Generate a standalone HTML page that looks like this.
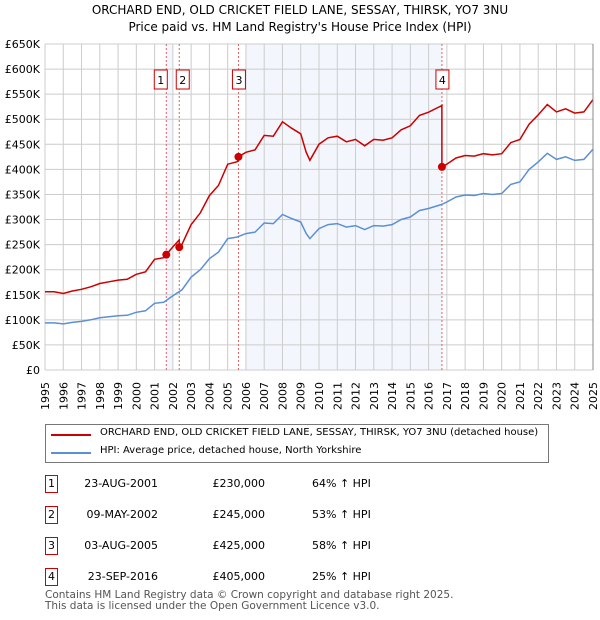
<!DOCTYPE html>
<html><head><meta charset="utf-8"><style>
body{margin:0;background:#fff;font-family:"DejaVu Sans","Liberation Sans",sans-serif;}
#wrap{position:relative;width:600px;height:620px;overflow:hidden}
.t{position:absolute;font-size:11px;color:#000;white-space:nowrap}
.box{position:absolute;border:1px solid #c00;width:11px;height:16px;text-align:center;font-size:11px;line-height:16px}
</style></head><body><div id="wrap">
<div class="t" style="left:0;width:600px;text-align:center;top:3px;font-size:12px">ORCHARD END, OLD CRICKET FIELD LANE, SESSAY, THIRSK, YO7 3NU</div>
<div class="t" style="left:0;width:600px;text-align:center;top:20px;font-size:12px">Price paid vs. HM Land Registry's House Price Index (HPI)</div>
<svg id="svg" width="600" height="420" style="position:absolute;left:0;top:0"></svg>
<div style="position:absolute;left:45px;top:424px;width:502px;height:37px;border:1px solid #777"></div>
<div style="position:absolute;left:51px;top:434px;width:40px;height:2px;background:#c00"></div>
<div class="t" style="left:100px;top:427px;font-size:10px">ORCHARD END, OLD CRICKET FIELD LANE, SESSAY, THIRSK, YO7 3NU (detached house)</div>
<div style="position:absolute;left:51px;top:452px;width:40px;height:2px;background:#5b8fd6"></div>
<div class="t" style="left:100px;top:445px;font-size:10px">HPI: Average price, detached house, North Yorkshire</div>
<div id="tbl"></div>
<div class="t" style="left:45px;top:590px;color:#555;font-size:10.5px;line-height:11px">Contains HM Land Registry data © Crown copyright and database right 2025.<br>This data is licensed under the Open Government Licence v3.0.</div>
</div>
<script>
const hpiYears=[1995,1995.5,1996,1996.5,1997,1997.5,1998,1998.5,1999,1999.5,2000,2000.5,2001,2001.5,2002,2002.5,2003,2003.5,2004,2004.5,2005,2005.5,2006,2006.5,2007,2007.5,2008,2008.5,2009,2009.3,2009.5,2010,2010.5,2011,2011.5,2012,2012.5,2013,2013.5,2014,2014.5,2015,2015.5,2016,2016.7,2017,2017.5,2018,2018.5,2019,2019.5,2020,2020.5,2021,2021.5,2022,2022.5,2023,2023.5,2024,2024.5,2025];
const hpiValues=[94,94,92,95,97,100,104,106,108,109,115,118,133,135,148,160,185,200,222,235,262,265,272,275,293,292,310,302,295,272,262,282,290,292,285,288,280,288,287,290,300,305,318,322,330,335,345,349,348,352,350,352,370,375,400,415,432,420,425,418,420,440];
const saleLabels=["1","2","3","4"];
const saleYears=[2001.64,2002.35,2005.59,2016.73];
const salePrices=[230,245,425,405];
const saleDates=["23-AUG-2001","09-MAY-2002","03-AUG-2005","23-SEP-2016"];
const salePct=["64%","53%","58%","25%"];
const yTicks=[0,50,100,150,200,250,300,350,400,450,500,550,600,650];
const xTicks=[];for(let y=1995;y<=2025;y++)xTicks.push(y);
const X=y=>45+(y-1995)*(548/30), Y=v=>370-v*(326/650);
const NS="http://www.w3.org/2000/svg",svg=document.getElementById('svg');
function mk(t,a,p){const e=document.createElementNS(NS,t);for(const k in a)e.setAttribute(k,a[k]);(p||svg).appendChild(e);return e;}
function hpiAt(y){for(let i=0;i<hpiYears.length-1;i++)if(y<=hpiYears[i+1]){const f=(y-hpiYears[i])/(hpiYears[i+1]-hpiYears[i]);return hpiValues[i]+f*(hpiValues[i+1]-hpiValues[i]);}return hpiValues[hpiValues.length-1];}
// shading
let s=mk('rect',{x:X(2001.64),y:44,width:X(2002.0)-X(2001.64),height:326,fill:'#eef3fc',opacity:0.7});

s=mk('rect',{x:X(2006.0),y:44,width:X(saleYears[3])-X(2006.0),height:326,fill:'#eef3fc',opacity:0.7});

yTicks.forEach(v=>{let l=mk('line',{x1:45,x2:593,y1:Y(v),y2:Y(v),stroke:'#ccc'});
let t=mk('text',{x:40,y:Y(v)+4,'text-anchor':'end','font-size':11});t.textContent=v==0?'£0':'£'+v+'K';});
xTicks.forEach(y=>{let l=mk('line',{x1:X(y),x2:X(y),y1:44,y2:370,stroke:'#ccc'});
let t=mk('text',{x:0,y:0,'font-size':11,transform:`translate(${X(y)+4},410) rotate(-90)`});t.textContent=y;});
// sale lines
saleYears.forEach((y,i)=>{let l=mk('line',{x1:X(y),x2:X(y),y1:44,y2:370,stroke:'#e06060','stroke-dasharray':'2,2'});
const bx=i==1?X(y)-3:i==0?X(y)-12:X(y)-6;
let r=mk('rect',{x:bx,y:70,width:13,height:19,fill:'#fff',stroke:'#c00'});
let t=mk('text',{x:bx+6.5,y:84,'text-anchor':'middle','font-size':11});t.textContent=saleLabels[i];});
// hpi line
let d='';hpiYears.forEach((y,i)=>d+=(i?'L':'M')+X(y).toFixed(1)+','+Y(hpiValues[i]).toFixed(1));
let p=mk('path',{d,fill:'none',stroke:'#5b8fd6','stroke-width':1.5});
// property line: HPI scaled by factor at each sale
const factors=saleYears.map((y,i)=>salePrices[i]/hpiAt(y));
function fac(y){let f=factors[0];saleYears.forEach((sy,i)=>{if(y>=sy)f=factors[i];});return f;}
const pts=[];hpiYears.forEach((y,i)=>pts.push([y,hpiValues[i]]));
saleYears.forEach(sy=>{pts.push([sy-0.001,hpiAt(sy)]);pts.push([sy,hpiAt(sy)]);});
pts.sort((a,b)=>a[0]-b[0]);
d='';pts.forEach((q,i)=>d+=(i?'L':'M')+X(q[0]).toFixed(1)+','+Y(q[1]*fac(q[0])).toFixed(1));
p=mk('path',{d,fill:'none',stroke:'#c00','stroke-width':1.5});
saleYears.forEach((y,i)=>{let c=mk('circle',{cx:X(y),cy:Y(salePrices[i]),r:4,fill:'#c00'});});
mk('line',{x1:593,x2:593,y1:44,y2:370,stroke:'#888'});
// table
const tbl=document.getElementById('tbl'),rowY=[475,506,537,568];
saleLabels.forEach((lab,i)=>{
const b=document.createElement('div');b.className='box';b.style.left='45px';b.style.top=rowY[i]+'px';b.textContent=lab;


tbl.appendChild(b);
[[saleDates[i],158,'right'],['£'+salePrices[i]+',000',265,'right'],[salePct[i]+' ↑ HPI',312,'left']].forEach(c=>{
const e=document.createElement('div');e.className='t';e.textContent=c[0];e.style.top=(rowY[i]+2)+'px';
if(c[2]=='right'){e.style.right=(600-c[1])+'px';}else e.style.left=c[1]+'px';


tbl.appendChild(e);});
});
</script></body></html>
